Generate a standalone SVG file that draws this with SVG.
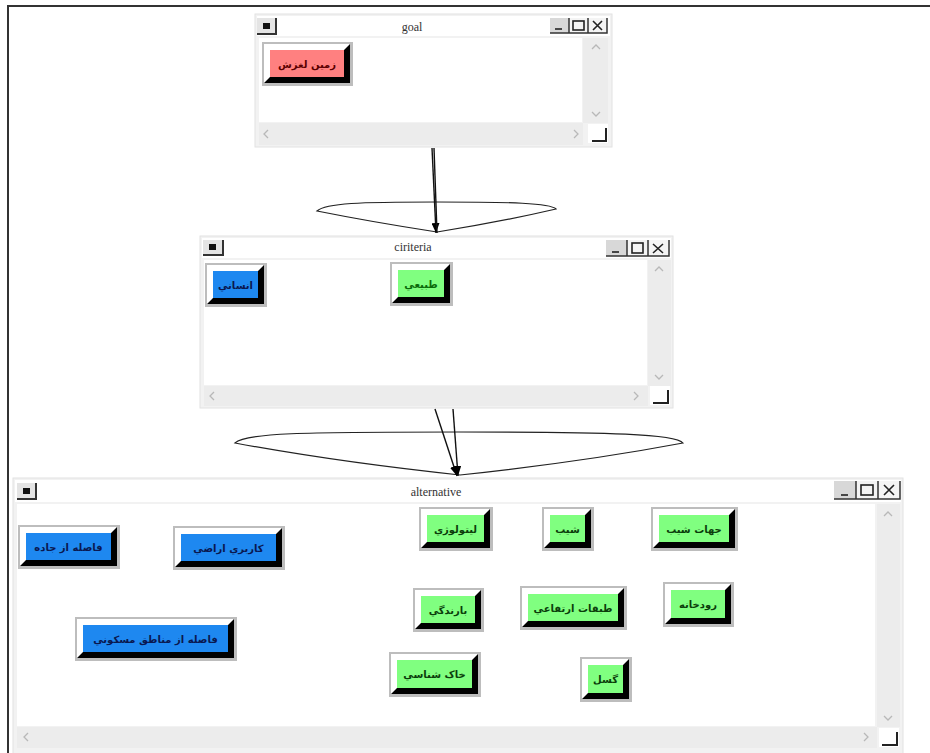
<svg xmlns="http://www.w3.org/2000/svg" width="930" height="753" viewBox="0 0 930 753">
<style>
.bg{fill:#ffffff}
.wframe{fill:#f2f2f2;stroke:#e2e2e2;stroke-width:1}
.wtitle{fill:#ffffff}
.client{fill:#ffffff}
.sb{fill:#ececec}
.chev{fill:none;stroke:#b8b8b8;stroke-width:1.3}
.corner{fill:#ffffff}
.grip{fill:none;stroke:#222;stroke-width:2}
.ttl{font-family:"Liberation Serif","Times New Roman",serif;font-size:12px;fill:#333;text-anchor:middle}
.sys{fill:#e4e4e4}
.sysdark{fill:none;stroke:#333;stroke-width:2}
.syssq{fill:#111}
.cap{fill:#f4f4f4}
.capmin{fill:#d8d8d8}
.capline{stroke:#333;stroke-width:1.5;fill:none}
.capicon{stroke:#222;stroke-width:1.6;fill:none}
.frame{fill:#bdbdbd}
.shadow{fill:#000}
.hl{fill:#ffffff}
.red .face{fill:#ff8080}
.blue .face{fill:#1e88f0}
.green .face{fill:#80ff80}
.lbl{font-family:"DejaVu Sans","Noto Sans",sans-serif;font-size:10px;font-weight:bold;text-anchor:middle}
.red .lbl{fill:#5a0000}
.blue .lbl{fill:#0a1850}
.green .lbl{fill:#0b3d0b}
.conn{stroke:#111;stroke-width:1.4;fill:none}
.lens{stroke:#222;stroke-width:1.2;fill:none}
.border{stroke:#333;stroke-width:2;fill:none}
</style>
<defs>
<marker id="arr" markerUnits="userSpaceOnUse" markerWidth="10" markerHeight="8" refX="10" refY="4" orient="auto">
<path d="M0,0 L10,4 L0,8 z" fill="#000"/>
</marker>
</defs>
<rect class="bg" x="0" y="0" width="930" height="753"/>
<polyline class="border" points="8,753 8,6 930,6"/>

<!-- goal window -->
<g id="win-goal">
<rect class="wframe" x="255" y="14" width="357" height="133"/>
<rect class="wtitle" x="257" y="16" width="353" height="20"/>
<rect class="sys" x="257" y="18" width="20" height="17"/>
<polyline class="sysdark" points="257,34 276,34 276,18"/>
<rect class="syssq" x="263" y="23" width="7" height="6"/>
<text class="ttl" x="412" y="31">goal</text>
<rect class="capmin" x="550" y="18" width="19" height="15"/>
<rect class="cap" x="569" y="18" width="38" height="15"/>
<polyline class="capline" points="550,33 607,33 607,18"/>
<line class="capline" x1="569" y1="18" x2="569" y2="33"/>
<line class="capline" x1="588" y1="18" x2="588" y2="33"/>
<line class="capicon" x1="555" y1="29" x2="562" y2="29"/>
<rect class="capicon" x="573" y="21" width="11" height="9"/>
<path class="capicon" d="M593,21 L602,30 M602,21 L593,30"/>
<rect class="client" x="259" y="38" width="323" height="84"/>
<rect class="sb" x="583" y="38" width="25" height="85"/>
<polyline class="chev" points="592,49 596,45 600,49"/>
<polyline class="chev" points="592,112 596,116 600,112"/>
<rect class="sb" x="259" y="123" width="324" height="22"/>
<polyline class="chev" points="268,130 264,134 268,138"/>
<polyline class="chev" points="574,130 578,134 574,138"/>
<rect class="corner" x="588" y="124" width="20" height="19"/>
<polyline class="grip" points="592,141 606,141 606,128"/>
</g>

<!-- ciriteria window -->
<g id="win-ciriteria">
<rect class="wframe" x="200" y="236" width="473" height="172"/>
<rect class="wtitle" x="202" y="238" width="469" height="20"/>
<rect class="sys" x="203" y="240" width="21" height="16"/>
<polyline class="sysdark" points="203,255 223,255 223,240"/>
<rect class="syssq" x="209" y="244" width="7" height="6"/>
<text class="ttl" x="413" y="251">ciriteria</text>
<rect class="capmin" x="606" y="240" width="21" height="16"/>
<rect class="cap" x="627" y="240" width="42" height="16"/>
<polyline class="capline" points="606,256 669,256 669,240"/>
<line class="capline" x1="627" y1="240" x2="627" y2="256"/>
<line class="capline" x1="648" y1="240" x2="648" y2="256"/>
<line class="capicon" x1="612" y1="252" x2="619" y2="252"/>
<rect class="capicon" x="632" y="243" width="11" height="10"/>
<path class="capicon" d="M653,244 L663,253 M663,244 L653,253"/>
<rect class="client" x="204" y="260" width="443" height="125"/>
<rect class="sb" x="648" y="260" width="23" height="126"/>
<polyline class="chev" points="655,271 659,267 663,271"/>
<polyline class="chev" points="655,375 659,379 663,375"/>
<rect class="sb" x="204" y="386" width="444" height="20"/>
<polyline class="chev" points="214,392 210,396 214,400"/>
<polyline class="chev" points="634,392 638,396 634,400"/>
<rect class="corner" x="650" y="386" width="20" height="19"/>
<polyline class="grip" points="653,403 668,403 668,390"/>
</g>

<!-- alternative window -->
<g id="win-alternative">
<rect class="wframe" x="13" y="478" width="890" height="280"/>
<rect class="wtitle" x="15" y="480" width="886" height="22"/>
<rect class="sys" x="17" y="483" width="20" height="17"/>
<polyline class="sysdark" points="17,499 36,499 36,483"/>
<rect class="syssq" x="23" y="488" width="7" height="6"/>
<text class="ttl" x="436" y="496">alternative</text>
<rect class="capmin" x="834" y="481" width="22" height="18"/>
<rect class="cap" x="856" y="481" width="44" height="18"/>
<polyline class="capline" points="834,499 900,499 900,481"/>
<line class="capline" x1="856" y1="481" x2="856" y2="499"/>
<line class="capline" x1="878" y1="481" x2="878" y2="499"/>
<line class="capicon" x1="841" y1="495" x2="848" y2="495"/>
<rect class="capicon" x="861" y="485" width="12" height="10"/>
<path class="capicon" d="M884,485 L894,495 M894,485 L884,495"/>
<rect class="client" x="17" y="504" width="858" height="222"/>
<rect class="sb" x="877" y="504" width="23" height="223"/>
<polyline class="chev" points="884,516 888,512 892,516"/>
<polyline class="chev" points="884,716 888,720 892,716"/>
<rect class="sb" x="17" y="727" width="860" height="21"/>
<polyline class="chev" points="28,733 24,737 28,741"/>
<polyline class="chev" points="864,733 868,737 864,741"/>
<rect class="corner" x="879" y="728" width="20" height="19"/>
<polyline class="grip" points="882,745 897,745 897,732"/>
</g>

<!-- connectors -->
<g id="connectors">
<path class="lens" d="M317,211 C326,203 360,202 436,202 C512,202 550,203 556,209 Q500,222 437,232 Q372,222 317,211 Z"/>
<line class="conn" x1="432" y1="148" x2="436" y2="233" marker-end="url(#arr)"/>
<line class="conn" x1="434" y1="148" x2="437" y2="233"/>
<path class="lens" d="M235,443 C246,433 300,432 458,432 C612,432 676,434 683,443 Q582,462 460,475 Q338,462 235,443 Z"/>
<line class="conn" x1="435" y1="409" x2="457" y2="476" marker-end="url(#arr)"/>
<line class="conn" x1="453" y1="409" x2="458" y2="476" marker-end="url(#arr)"/>
</g>

<!-- goal node -->
<g id="n-zamin-laghzesh" class="node red" transform="translate(262,42)">
<rect class="frame" width="91" height="44"/>
<rect class="shadow" x="2" y="2" width="86" height="39"/>
<polygon class="hl" points="2,2 88,2 82,8 8,8 8,35 2,41"/>
<rect class="face" x="8" y="8" width="74" height="27"/>
<text class="lbl" x="45" y="25.5">زمین لغزش</text>
</g>

<!-- criteria nodes -->
<g id="n-ensani" class="node blue" transform="translate(205,263)">
<rect class="frame" width="62" height="44"/>
<rect class="shadow" x="2" y="2" width="57" height="39"/>
<polygon class="hl" points="2,2 59,2 53,8 8,8 8,35 2,41"/>
<rect class="face" x="8" y="8" width="45" height="27"/>
<text class="lbl" x="30.5" y="25.5">انساني</text>
</g>
<g id="n-tabiei" class="node green" transform="translate(390,262)">
<rect class="frame" width="63" height="44"/>
<rect class="shadow" x="2" y="2" width="58" height="39"/>
<polygon class="hl" points="2,2 60,2 54,8 8,8 8,35 2,41"/>
<rect class="face" x="8" y="8" width="46" height="27"/>
<text class="lbl" x="31" y="25.5" style="fill:#0a6a0a">طبيعي</text>
</g>

<!-- alternative nodes -->
<g id="n-fasele-jade" class="node blue" transform="translate(18,525)">
<rect class="frame" width="102" height="44"/>
<rect class="shadow" x="2" y="2" width="97" height="39"/>
<polygon class="hl" points="2,2 99,2 93,8 8,8 8,35 2,41"/>
<rect class="face" x="8" y="8" width="85" height="27"/>
<text class="lbl" x="50.5" y="25.5">فاصله از جاده</text>
</g>
<g id="n-karbari" class="node blue" transform="translate(173,526)">
<rect class="frame" width="112" height="44"/>
<rect class="shadow" x="2" y="2" width="107" height="39"/>
<polygon class="hl" points="2,2 109,2 103,8 8,8 8,35 2,41"/>
<rect class="face" x="8" y="8" width="95" height="27"/>
<text class="lbl" x="55.5" y="25.5">كاربري اراضي</text>
</g>
<g id="n-fasele-maskooni" class="node blue" transform="translate(75,617)">
<rect class="frame" width="162" height="44"/>
<rect class="shadow" x="2" y="2" width="157" height="39"/>
<polygon class="hl" points="2,2 159,2 153,8 8,8 8,35 2,41"/>
<rect class="face" x="8" y="8" width="145" height="27"/>
<text class="lbl" x="80.5" y="25.5">فاصله از مناطق مسكوني</text>
</g>
<g id="n-litology" class="node green" transform="translate(419,507)">
<rect class="frame" width="74" height="44"/>
<rect class="shadow" x="2" y="2" width="69" height="39"/>
<polygon class="hl" points="2,2 71,2 65,8 8,8 8,35 2,41"/>
<rect class="face" x="8" y="8" width="57" height="27"/>
<text class="lbl" x="36.5" y="25.5">ليتولوژي</text>
</g>
<g id="n-shib" class="node green" transform="translate(542,507)">
<rect class="frame" width="52" height="44"/>
<rect class="shadow" x="2" y="2" width="47" height="39"/>
<polygon class="hl" points="2,2 49,2 43,8 8,8 8,35 2,41"/>
<rect class="face" x="8" y="8" width="35" height="27"/>
<text class="lbl" x="25.5" y="25.5">شيب</text>
</g>
<g id="n-jahat-shib" class="node green" transform="translate(651,507)">
<rect class="frame" width="87" height="44"/>
<rect class="shadow" x="2" y="2" width="82" height="39"/>
<polygon class="hl" points="2,2 84,2 78,8 8,8 8,35 2,41"/>
<rect class="face" x="8" y="8" width="70" height="27"/>
<text class="lbl" x="43" y="25.5">جهات شيب</text>
</g>
<g id="n-barandegi" class="node green" transform="translate(413,588)">
<rect class="frame" width="71" height="44"/>
<rect class="shadow" x="2" y="2" width="66" height="39"/>
<polygon class="hl" points="2,2 68,2 62,8 8,8 8,35 2,41"/>
<rect class="face" x="8" y="8" width="54" height="27"/>
<text class="lbl" x="35" y="25.5">بارندگي</text>
</g>
<g id="n-tabaghat" class="node green" transform="translate(520,586)">
<rect class="frame" width="107" height="44"/>
<rect class="shadow" x="2" y="2" width="102" height="39"/>
<polygon class="hl" points="2,2 104,2 98,8 8,8 8,35 2,41"/>
<rect class="face" x="8" y="8" width="90" height="27"/>
<text class="lbl" x="53" y="25.5">طبقات ارتفاعي</text>
</g>
<g id="n-roodkhane" class="node green" transform="translate(663,582)">
<rect class="frame" width="71" height="45"/>
<rect class="shadow" x="2" y="2" width="66" height="40"/>
<polygon class="hl" points="2,2 68,2 62,8 8,8 8,36 2,42"/>
<rect class="face" x="8" y="8" width="54" height="28"/>
<text class="lbl" x="35" y="26">رودخانه</text>
</g>
<g id="n-khakshenasi" class="node green" transform="translate(389,652)">
<rect class="frame" width="92" height="45"/>
<rect class="shadow" x="2" y="2" width="87" height="40"/>
<polygon class="hl" points="2,2 89,2 83,8 8,8 8,36 2,42"/>
<rect class="face" x="8" y="8" width="75" height="28"/>
<text class="lbl" x="45.5" y="26">خاک شناسي</text>
</g>
<g id="n-gosal" class="node green" transform="translate(580,657)">
<rect class="frame" width="52" height="45"/>
<rect class="shadow" x="2" y="2" width="47" height="40"/>
<polygon class="hl" points="2,2 49,2 43,8 8,8 8,36 2,42"/>
<rect class="face" x="8" y="8" width="35" height="28"/>
<text class="lbl" x="25.5" y="26">گسل</text>
</g>
</svg>
